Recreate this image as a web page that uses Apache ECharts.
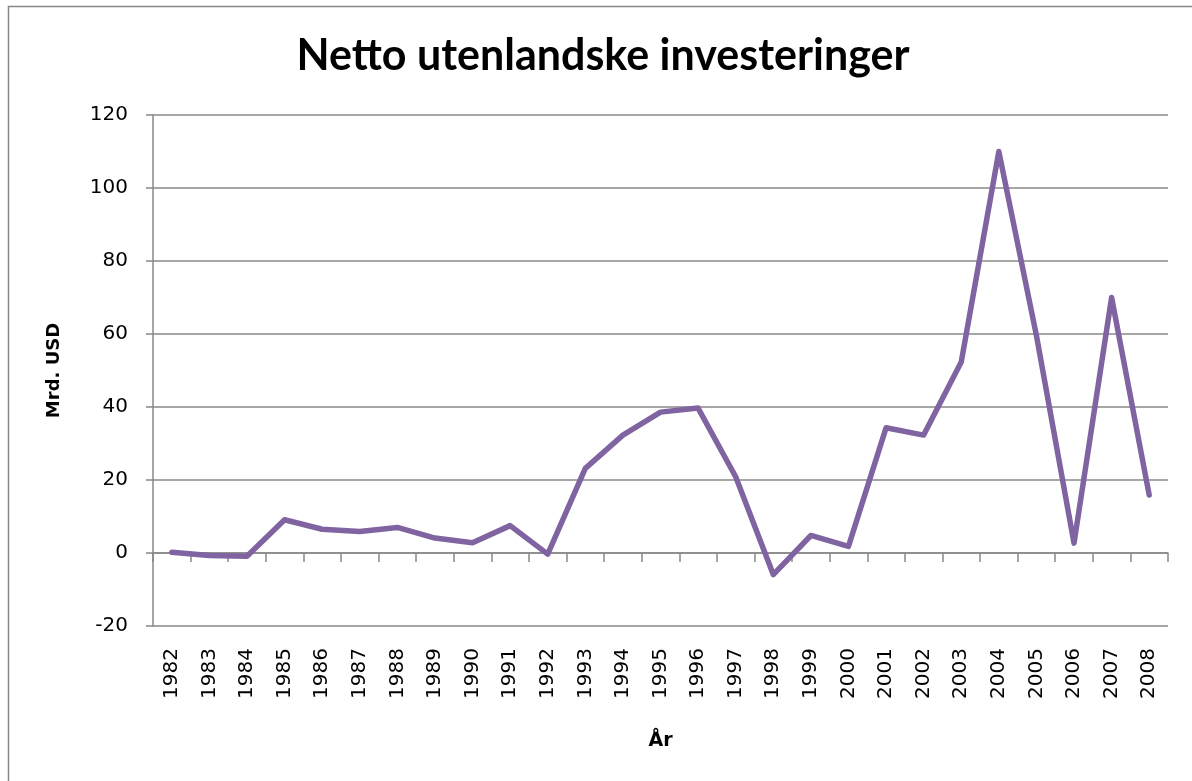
<!DOCTYPE html>
<html>
<head>
<meta charset="utf-8">
<script src="https://cdn.jsdelivr.net/npm/echarts@6/dist/echarts.min.js"></script>
<style>
html,body{margin:0;padding:0;background:#fff;}
#chart{width:1192px;height:781px;}
</style>
</head>
<body>
<div id="chart"></div>
<script>
const titleText = 'Netto utenlandske investeringer';
const yAxisName = 'Mrd. USD';
const xAxisName = 'År';
const years = ['1982','1983','1984','1985','1986','1987','1988','1989','1990','1991','1992','1993','1994','1995','1996','1997','1998','1999','2000','2001','2002','2003','2004','2005','2006','2007','2008'];
const values = [0.2,-0.7,-0.9,9.1,6.5,5.9,7.0,4.1,2.8,7.5,-0.3,23.2,32.3,38.6,39.7,20.9,-5.9,4.8,1.8,34.3,32.3,52.3,110.0,59.6,2.7,70.0,15.9];

const gray = '#888888';
const chart = echarts.init(document.getElementById('chart'));
chart.setOption({
  animation: false,
  backgroundColor: '#ffffff',
  graphic: [
    {type:'rect', shape:{x:8.5,y:6.5,width:1400,height:1000}, style:{fill:'none', stroke:gray, lineWidth:1.5}, silent:true},
    {type:'text', x:603, y:56, style:{text:titleText, font:'bold 43px Lato', fill:'#000', textAlign:'center', textVerticalAlign:'middle'}}
  ],
  grid: {left:153, right:24, top:115, bottom:155, containLabel:false},
  xAxis: [
    {
      type:'category', data: years, position:'bottom',
      axisLine:{show:false, onZero:false},
      axisTick:{show:false},
      axisLabel:{rotate:90, margin:22, fontFamily:'DejaVu Sans', fontSize:20, color:'#000'},
      name:xAxisName, nameLocation:'middle', nameGap:106,
      nameTextStyle:{fontFamily:'DejaVu Sans', fontWeight:'bold', fontSize:19, color:'#000'}
    },
    {
      type:'category', data: years, position:'bottom',
      axisLine:{show:true, onZero:true, lineStyle:{color:gray, width:1.5}},
      axisTick:{show:true, length:9, inside:false, lineStyle:{color:gray, width:1.5}},
      axisLabel:{show:false}
    }
  ],
  yAxis: {
    type:'value', min:-20, max:120, interval:20,
    axisLine:{show:true, lineStyle:{color:gray, width:1.5}},
    axisTick:{show:true, length:7, lineStyle:{color:gray, width:1.5}},
    splitLine:{show:true, lineStyle:{color:gray, width:1.5}},
    axisLabel:{margin:25, fontFamily:'DejaVu Sans', fontSize:20, color:'#000'},
    name:yAxisName, nameLocation:'middle', nameGap:90, nameRotate:90,
    nameTextStyle:{fontFamily:'DejaVu Sans', fontWeight:'bold', fontSize:18, color:'#000'}
  },
  series: [{
    type:'line', data: values, xAxisIndex:0, yAxisIndex:0,
    symbol:'none', lineStyle:{color:'#8064A2', width:5.5, cap:'round', join:'round'}
  }]
});
</script>
</body>
</html>
